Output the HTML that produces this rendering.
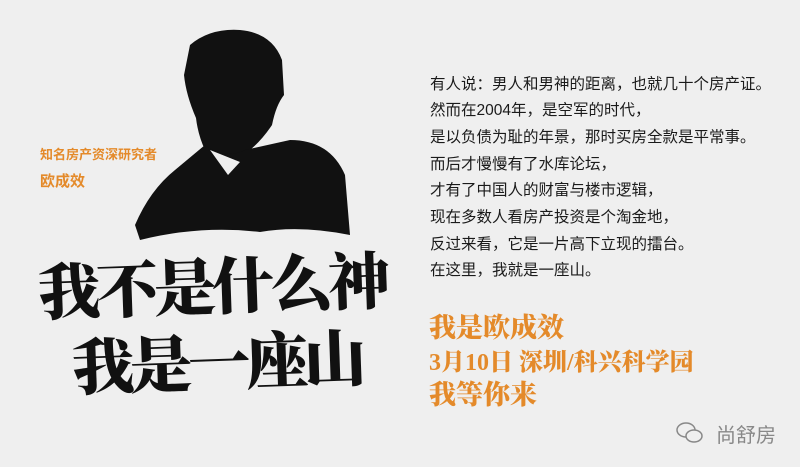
<!DOCTYPE html>
<html><head><meta charset="utf-8"><style>
body{margin:0;width:800px;height:467px;overflow:hidden;background:#efefef;position:relative;font-family:"Liberation Sans","Noto Sans CJK SC",sans-serif}
.a{position:absolute;white-space:nowrap}
.body{left:430px;font-size:15.5px;color:#1a1a1a;line-height:16px}
.or{left:429px;color:#e48a2a;font-family:"Liberation Serif","Noto Serif CJK SC",serif;font-weight:900}
.cal{font-family:"Liberation Serif","Noto Serif CJK SC",serif;font-weight:900;color:#111}
</style></head><body>
<svg class="a" style="left:0;top:0" width="420" height="467">
<path d="M190 45 Q210 28 240 30 Q272 33 282 60 L284 95 Q276 105 272 125 Q262 140 250 150 L240 165 L230 178 Q220 170 215 160 L205 150 Q198 135 196 118 Q186 95 184 75 Z" fill="#111"/>
<path d="M200 75 Q215 72 230 80 L240 95 Q250 110 245 130 L230 140 Q215 138 208 125 Z" fill="#efefef" opacity="0.0"/>
<path d="M205 145 Q225 160 245 150 L290 140 Q330 140 345 175 L350 235 Q300 225 260 232 Q200 225 140 240 L135 225 Q150 190 175 170 Z" fill="#111"/>
<path d="M210 150 L240 162 L228 175 Z" fill="#efefef"/>
</svg>
<div class="a" style="left:40px;top:144px;font-size:13px;font-weight:bold;color:#e48a2a">知名房产资深研究者</div>
<div class="a" style="left:40px;top:170px;font-size:15px;font-weight:bold;color:#e48a2a">欧成效</div>
<div class="a cal" style="left:38px;top:238px;font-size:62px;letter-spacing:-4px;transform:rotate(-2deg)">我不是什么神</div>
<div class="a cal" style="left:72px;top:314px;font-size:62px;letter-spacing:-4px;transform:rotate(-2deg)">我是一座山</div>
<div>
<div class="a body" style="top:77px">有人说：男人和男神的距离，也就几十个房产证。</div>
<div class="a body" style="top:103px">然而在2004年，是空军的时代，</div>
<div class="a body" style="top:130px">是以负债为耻的年景，那时买房全款是平常事。</div>
<div class="a body" style="top:157px">而后才慢慢有了水库论坛，</div>
<div class="a body" style="top:183px">才有了中国人的财富与楼市逻辑，</div>
<div class="a body" style="top:210px">现在多数人看房产投资是个淘金地，</div>
<div class="a body" style="top:237px">反过来看，它是一片高下立现的擂台。</div>
<div class="a body" style="top:263px">在这里，我就是一座山。</div>
</div>
<div class="a or" style="top:306px;font-size:27px">我是欧成效</div>
<div class="a or" style="top:342px;font-size:24px">3月10日 深圳/科兴科学园</div>
<div class="a or" style="top:373px;font-size:27px">我等你来</div>
<svg class="a" style="left:675px;top:420px" width="30" height="26">
<ellipse cx="11" cy="10" rx="9" ry="7" fill="none" stroke="#888" stroke-width="1.5"/>
<ellipse cx="19" cy="16" rx="8" ry="6" fill="#efefef" stroke="#888" stroke-width="1.5"/>
</svg>
<div class="a" style="left:716px;top:419px;font-size:20px;color:#888">尚舒房</div>
</body></html>
